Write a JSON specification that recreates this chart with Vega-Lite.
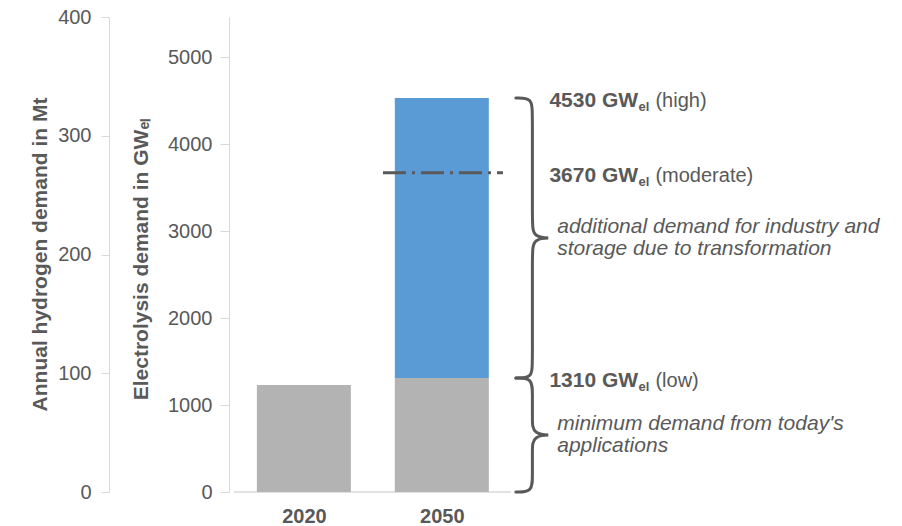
{
  "$schema": "https://vega.github.io/schema/vega-lite/v6.json",
  "width": 673,
  "height": 475,
  "autosize": {"type": "none"},
  "padding": {"left": 229, "top": 17, "right": 0, "bottom": 34},
  "background": "white",
  "config": {
    "view": {"stroke": null},
    "font": "Liberation Sans",
    "numberFormat": "d",
    "axis": {
      "grid": false,
      "labelColor": "#595959",
      "labelFont": "Liberation Sans",
      "labelFontSize": 20,
      "domainColor": "#d9d9d9",
      "tickColor": "#d9d9d9",
      "titleColor": "#595959",
      "titleFont": "Liberation Sans",
      "titleFontSize": 21,
      "titleFontWeight": "bold"
    },
    "axisX": {
      "domain": false,
      "ticks": false,
      "labelPadding": 14,
      "labelFontWeight": "bold",
      "labelFontSize": 20
    }
  },
  "layer": [
    {
      "data": {"values": [{"mt": 0}, {"mt": 400}]},
      "mark": {"type": "point", "opacity": 0},
      "encoding": {
        "y": {
          "field": "mt",
          "type": "quantitative",
          "scale": {"domain": [0, 400], "nice": false, "zero": true},
          "axis": {
            "orient": "left",
            "offset": 120,
            "values": [0, 100, 200, 300, 400],
            "title": "Annual hydrogen demand in Mt",
            "tickSize": 8,
            "labelPadding": 10,
            "titleAngle": 270,
            "titleAlign": "center",
            "titleBaseline": "alphabetic",
            "titleX": -62.5,
            "titleY": 237
          }
        }
      }
    },
    {
      "encoding": {
        "y": {
          "field": "gw",
          "type": "quantitative",
          "scale": {"domain": [0, 5460], "nice": false, "zero": true},
          "axis": {
            "orient": "left",
            "values": [0, 1000, 2000, 3000, 4000, 5000],
            "title": "Electrolysis demand in GWₑₗ",
            "tickSize": 9,
            "labelPadding": 8,
            "titleAngle": 270,
            "titleAlign": "center",
            "titleBaseline": "alphabetic",
            "titleX": -81.5,
            "titleY": 241.5
          }
        }
      },
      "layer": [
        {
          "data": {"values": [{"gw": 0}]},
          "mark": {"type": "rule", "color": "#d9d9d9", "strokeWidth": 1.5},
          "encoding": {
            "x": {"datum": 2004.8, "type": "quantitative", "scale": {"domain": [2004.8, 2149], "nice": false, "zero": false}, "axis": {"values": [2020, 2050], "title": null}},
            "x2": {"datum": 2065}
          }
        },
        {
          "data": {
            "values": [
              {"year": 2020, "part": "today's applications", "base": 0, "gw": 1230},
              {"year": 2050, "part": "today's applications", "base": 0, "gw": 1310},
              {"year": 2050, "part": "transformation", "base": 1310, "gw": 4530}
            ]
          },
          "mark": {"type": "bar", "width": 94},
          "encoding": {
            "x": {"field": "year", "type": "quantitative", "scale": {"domain": [2004.8, 2149], "nice": false, "zero": false}, "axis": {"values": [2020, 2050], "title": null}},
            "y2": {"field": "base"},
            "color": {
              "field": "part",
              "type": "nominal",
              "scale": {"domain": ["today's applications", "transformation"], "range": ["#b3b3b3", "#5b9bd5"]},
              "legend": null
            }
          }
        },
        {
          "data": {"values": [{"scenario": "moderate", "gw": 3670}]},
          "mark": {"type": "rule", "color": "#595959", "strokeWidth": 3, "strokeDash": [23, 6, 3, 6]},
          "encoding": {
            "x": {"datum": 2037.2, "type": "quantitative", "axis": {"values": [2020, 2050], "title": null}},
            "x2": {"datum": 2063.3}
          }
        },
        {
          "data": {
            "values": [
              {"brace": "upper", "i": 1, "pos": 2066.1, "gw": 4530},
              {"brace": "upper", "i": 2, "pos": 2069.7, "gw": 4530},
              {"brace": "upper", "i": 3, "pos": 2069.7, "gw": 4346},
              {"brace": "upper", "i": 4, "pos": 2069.7, "gw": 3104},
              {"brace": "upper", "i": 5, "pos": 2069.7, "gw": 2920},
              {"brace": "upper", "i": 6, "pos": 2074.9, "gw": 2920},
              {"brace": "upper", "i": 7, "pos": 2069.7, "gw": 2920},
              {"brace": "upper", "i": 8, "pos": 2069.7, "gw": 2736},
              {"brace": "upper", "i": 9, "pos": 2069.7, "gw": 1494},
              {"brace": "upper", "i": 10, "pos": 2069.7, "gw": 1310},
              {"brace": "upper", "i": 11, "pos": 2066.1, "gw": 1310},
              {"brace": "lower", "i": 1, "pos": 2066.1, "gw": 1310},
              {"brace": "lower", "i": 2, "pos": 2069.7, "gw": 1310},
              {"brace": "lower", "i": 3, "pos": 2069.7, "gw": 1126},
              {"brace": "lower", "i": 4, "pos": 2069.7, "gw": 839},
              {"brace": "lower", "i": 5, "pos": 2069.7, "gw": 655},
              {"brace": "lower", "i": 6, "pos": 2074.9, "gw": 655},
              {"brace": "lower", "i": 7, "pos": 2069.7, "gw": 655},
              {"brace": "lower", "i": 8, "pos": 2069.7, "gw": 471},
              {"brace": "lower", "i": 9, "pos": 2069.7, "gw": 184},
              {"brace": "lower", "i": 10, "pos": 2069.7, "gw": 0},
              {"brace": "lower", "i": 11, "pos": 2066.1, "gw": 0}
            ]
          },
          "mark": {"type": "line", "interpolate": "basis", "color": "#595959", "strokeWidth": 3, "strokeCap": "round"},
          "encoding": {
            "x": {"field": "pos", "type": "quantitative", "axis": {"values": [2020, 2050], "title": null}},
            "detail": {"field": "brace", "type": "nominal"},
            "order": {"field": "i", "type": "quantitative"}
          }
        },
        {
          "data": {
            "values": [
              {"gw": 4530, "label": "4530 GW", "tag": "(high)"},
              {"gw": 3670, "label": "3670 GW", "tag": "(moderate)"},
              {"gw": 1310, "label": "1310 GW", "tag": "(low)"}
            ]
          },
          "encoding": {
            "x": {"datum": 2073.4, "type": "quantitative", "axis": {"values": [2020, 2050], "title": null}}
          },
          "layer": [
            {
              "mark": {"type": "text", "align": "left", "baseline": "alphabetic", "dy": 9, "fontSize": 21, "fontWeight": "bold", "color": "#595959"},
              "encoding": {"text": {"field": "label"}}
            },
            {
              "mark": {"type": "text", "align": "left", "baseline": "alphabetic", "dx": 89, "dy": 13, "fontSize": 13, "fontWeight": "bold", "color": "#595959"},
              "encoding": {"text": {"value": "el"}}
            },
            {
              "mark": {"type": "text", "align": "left", "baseline": "alphabetic", "dx": 106, "dy": 9, "fontSize": 20, "color": "#595959"},
              "encoding": {"text": {"field": "tag"}}
            }
          ]
        },
        {
          "data": {
            "values": [
              {"gw": 2920, "note": "additional demand for industry and\nstorage due to transformation"},
              {"gw": 655, "note": "minimum demand from today's\napplications"}
            ]
          },
          "mark": {"type": "text", "align": "left", "baseline": "middle", "dy": -11, "fontSize": 21, "fontStyle": "italic", "lineBreak": "\n", "lineHeight": 22, "color": "#595959"},
          "encoding": {
            "x": {"datum": 2075.1, "type": "quantitative", "axis": {"values": [2020, 2050], "title": null}},
            "text": {"field": "note"}
          }
        }
      ]
    }
  ],
  "resolve": {"scale": {"y": "independent"}}
}
